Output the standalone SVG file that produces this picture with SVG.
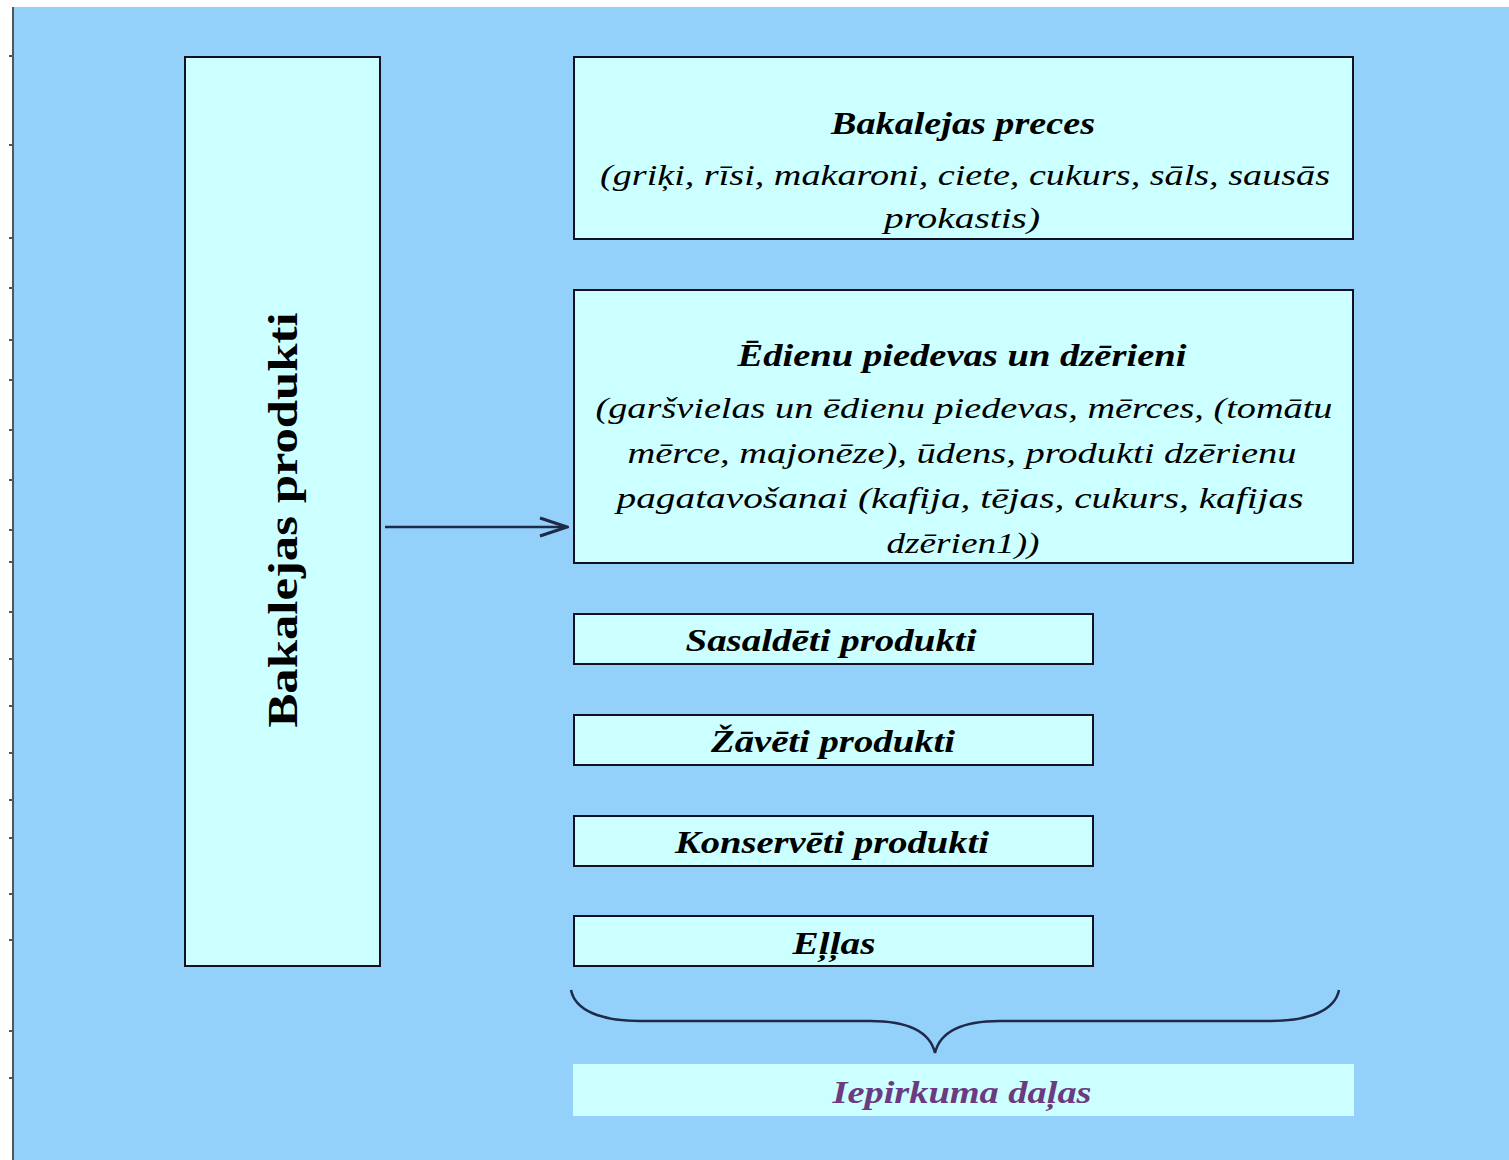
<svg xmlns="http://www.w3.org/2000/svg" width="1509" height="1160" viewBox="0 0 1509 1160">
<style>
.box{fill:#ccffff;stroke:#111122;stroke-width:2}
.t{font-family:"Liberation Serif",serif;fill:#000}
.h{font-weight:bold;font-style:italic;font-size:32px}
.b{font-style:italic;font-size:30px}
.c{stroke:#1f2a4a;stroke-width:2.5;fill:none}
</style>
<defs>
<marker id="ah" markerWidth="32" markerHeight="22" refX="30" refY="11" orient="auto" markerUnits="userSpaceOnUse">
<path d="M3,2 L30,11 L3,20" fill="none" stroke="#1f2a4a" stroke-width="3"/>
</marker>
</defs>
<rect x="0" y="0" width="1509" height="1160" fill="#ffffff"/>
<rect x="12" y="7" width="1497" height="1153" fill="#93d1fb"/>
<line x1="13" y1="7" x2="13" y2="1160" stroke="#555" stroke-width="2"/>
<g stroke="#555" stroke-width="2">
<line x1="9" y1="56" x2="13" y2="56"/><line x1="9" y1="145" x2="13" y2="145"/><line x1="9" y1="238" x2="13" y2="238"/><line x1="9" y1="288" x2="13" y2="288"/><line x1="9" y1="340" x2="13" y2="340"/><line x1="9" y1="380" x2="13" y2="380"/><line x1="9" y1="430" x2="13" y2="430"/><line x1="9" y1="480" x2="13" y2="480"/><line x1="9" y1="530" x2="13" y2="530"/><line x1="9" y1="562" x2="13" y2="562"/><line x1="9" y1="612" x2="13" y2="612"/><line x1="9" y1="659" x2="13" y2="659"/><line x1="9" y1="706" x2="13" y2="706"/><line x1="9" y1="753" x2="13" y2="753"/><line x1="9" y1="800" x2="13" y2="800"/><line x1="9" y1="838" x2="13" y2="838"/><line x1="9" y1="894" x2="13" y2="894"/><line x1="9" y1="940" x2="13" y2="940"/><line x1="9" y1="1031" x2="13" y2="1031"/><line x1="9" y1="1078" x2="13" y2="1078"/>
</g>
<g id="connectors">
<line class="c" x1="385" y1="527" x2="567" y2="527" marker-end="url(#ah)"/>
<path class="c" d="M571,990 C575,1010 600,1021 640,1021 L870,1021 C910,1021 930,1032 935,1053 C940,1032 960,1021 1000,1021 L1270,1021 C1310,1021 1335,1010 1339,990"/>
</g>
<g id="node-bakalejas-produkti">
<rect class="box" x="185" y="57" width="195" height="909"/>
<text class="t" x="0" y="0" transform="translate(297,520) rotate(-90)" text-anchor="middle" font-weight="bold" font-size="42" textLength="415" lengthAdjust="spacingAndGlyphs">Bakalejas produkti</text>
</g>
<g id="node-bakalejas-preces">
<rect class="box" x="574" y="57" width="779" height="182"/>
<text class="t h" x="963" y="134" text-anchor="middle" textLength="264" lengthAdjust="spacingAndGlyphs">Bakalejas preces</text>
<text class="t b" x="965" y="185" text-anchor="middle" textLength="730" lengthAdjust="spacingAndGlyphs">(griķi, rīsi, makaroni, ciete, cukurs, sāls, sausās</text>
<text class="t b" x="962" y="228" text-anchor="middle" textLength="156" lengthAdjust="spacingAndGlyphs">prokastis)</text>
</g>
<g id="node-edienu-piedevas">
<rect class="box" x="574" y="290" width="779" height="273"/>
<text class="t h" x="962" y="366" text-anchor="middle" textLength="449" lengthAdjust="spacingAndGlyphs">Ēdienu piedevas un dzērieni</text>
<text class="t b" x="964" y="418" text-anchor="middle" textLength="737" lengthAdjust="spacingAndGlyphs">(garšvielas un ēdienu piedevas, mērces, (tomātu</text>
<text class="t b" x="962" y="463" text-anchor="middle" textLength="669" lengthAdjust="spacingAndGlyphs">mērce, majonēze), ūdens, produkti dzērienu</text>
<text class="t b" x="960" y="508" text-anchor="middle" textLength="687" lengthAdjust="spacingAndGlyphs">pagatavošanai (kafija, tējas, cukurs, kafijas</text>
<text class="t b" x="963" y="553" text-anchor="middle" textLength="153" lengthAdjust="spacingAndGlyphs">dzērien1))</text>
</g>
<g id="node-sasaldeti">
<rect class="box" x="574" y="614" width="519" height="50"/>
<text class="t h" x="831" y="651" text-anchor="middle" textLength="291" lengthAdjust="spacingAndGlyphs">Sasaldēti produkti</text>
</g>
<g id="node-zaveti">
<rect class="box" x="574" y="715" width="519" height="50"/>
<text class="t h" x="833" y="752" text-anchor="middle" textLength="244" lengthAdjust="spacingAndGlyphs">Žāvēti produkti</text>
</g>
<g id="node-konserveti">
<rect class="box" x="574" y="816" width="519" height="50"/>
<text class="t h" x="832" y="853" text-anchor="middle" textLength="314" lengthAdjust="spacingAndGlyphs">Konservēti produkti</text>
</g>
<g id="node-ellas">
<rect class="box" x="574" y="916" width="519" height="50"/>
<text class="t h" x="834" y="954" text-anchor="middle" textLength="83" lengthAdjust="spacingAndGlyphs">Eļļas</text>
</g>
<g id="node-iepirkuma-dalas">
<rect x="573" y="1064" width="781" height="52" fill="#ccffff"/>
<text class="t h" x="962" y="1103" text-anchor="middle" style="fill:#6b3a80" textLength="259" lengthAdjust="spacingAndGlyphs">Iepirkuma daļas</text>
</g>
</svg>
